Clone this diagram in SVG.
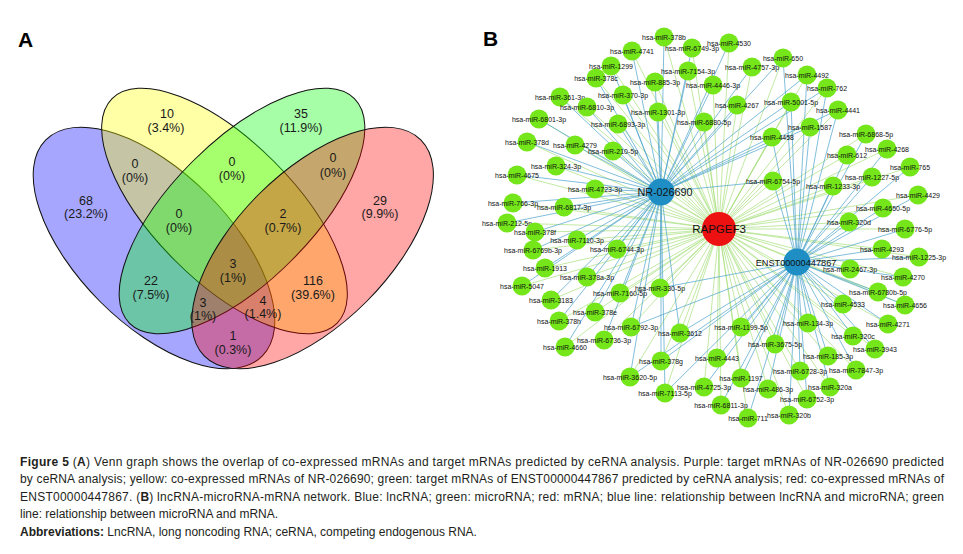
<svg xmlns="http://www.w3.org/2000/svg" width="963" height="554" viewBox="0 0 963 554">
<style>
.lbl{font-family:"Liberation Sans",Arial,sans-serif;font-size:7px;text-anchor:middle;fill:#111}
.m{fill:#74e61a}
.lnc{fill:#1f8ec4}
.eg{stroke:#a8e07c;stroke-width:0.7}
.eb{stroke:#4aa2cc;stroke-width:0.7}
.vt{font-family:"Liberation Sans",Arial,sans-serif;font-size:12.5px;text-anchor:middle;fill:#1a1a1a}
.set{stroke:#111;stroke-width:1;fill-opacity:0.35}
.cap{font-family:"Liberation Sans",Arial,sans-serif;font-size:12px;fill:#231f20}
.pl{font-family:"Liberation Sans",Arial,sans-serif;font-size:21px;font-weight:bold;fill:#000}
</style>
<rect width="963" height="554" fill="#fff"/>
<text class="pl" x="18" y="47">A</text>
<text class="pl" x="483" y="46">B</text>
<g id="venn">
<ellipse id="set-purple" class="set" cx="154" cy="248" rx="153" ry="76" transform="rotate(45 154 248)" fill="#0000ff"/>
<ellipse id="set-yellow" class="set" cx="224.5" cy="211" rx="159" ry="70" transform="rotate(45 224.5 211)" fill="#ffff00"/>
<ellipse id="set-green" class="set" cx="242" cy="211" rx="159" ry="70" transform="rotate(-45 242 211)" fill="#00ff00"/>
<ellipse id="set-red" class="set" cx="312.6" cy="248" rx="153" ry="76" transform="rotate(-45 312.6 248)" fill="#ff0000"/>
<g id="venn-labels">
<text class="vt" x="167" y="117.5">10</text><text class="vt" x="166" y="131.5">(3.4%)</text>
<text class="vt" x="301" y="117.5">35</text><text class="vt" x="301" y="131.5">(11.9%)</text>
<text class="vt" x="135" y="167.5">0</text><text class="vt" x="135" y="181.5">(0%)</text>
<text class="vt" x="232" y="165.5">0</text><text class="vt" x="232" y="179.5">(0%)</text>
<text class="vt" x="333" y="161.5">0</text><text class="vt" x="333" y="176.5">(0%)</text>
<text class="vt" x="86" y="204.5">68</text><text class="vt" x="86" y="217.5">(23.2%)</text>
<text class="vt" x="380" y="204.5">29</text><text class="vt" x="380" y="217.5">(9.9%)</text>
<text class="vt" x="179" y="217.5">0</text><text class="vt" x="179" y="231.5">(0%)</text>
<text class="vt" x="283" y="217.5">2</text><text class="vt" x="283" y="231.5">(0.7%)</text>
<text class="vt" x="233" y="267.5">3</text><text class="vt" x="233" y="281.5">(1%)</text>
<text class="vt" x="151" y="284.5">22</text><text class="vt" x="151" y="298.5">(7.5%)</text>
<text class="vt" x="313" y="284.5">116</text><text class="vt" x="313" y="298.5">(39.6%)</text>
<text class="vt" x="203" y="306.5">3</text><text class="vt" x="203" y="319.5">(1%)</text>
<text class="vt" x="263" y="304.5">4</text><text class="vt" x="263" y="317.5">(1.4%)</text>
<text class="vt" x="233" y="339.5">1</text><text class="vt" x="233" y="353.5">(0.3%)</text>
</g>
</g>
<g id="connectors">
<g id="green-edges" class="eg">
<line x1="719" y1="229" x2="664" y2="37"/><line x1="719" y1="229" x2="692" y2="48"/><line x1="719" y1="229" x2="729" y2="43"/><line x1="719" y1="229" x2="632" y2="51"/><line x1="719" y1="229" x2="783" y2="58"/><line x1="719" y1="229" x2="611" y2="66"/><line x1="719" y1="229" x2="688" y2="71"/><line x1="719" y1="229" x2="752" y2="67"/><line x1="719" y1="229" x2="807" y2="75"/><line x1="719" y1="229" x2="596" y2="78"/>
<line x1="719" y1="229" x2="655" y2="82"/><line x1="719" y1="229" x2="713" y2="85"/><line x1="719" y1="229" x2="827" y2="88"/><line x1="719" y1="229" x2="560" y2="97"/><line x1="719" y1="229" x2="623" y2="95"/><line x1="719" y1="229" x2="737" y2="105"/><line x1="719" y1="229" x2="791" y2="102"/><line x1="719" y1="229" x2="838" y2="110"/><line x1="719" y1="229" x2="587" y2="107"/><line x1="719" y1="229" x2="658" y2="112"/>
<line x1="719" y1="229" x2="539" y2="119"/><line x1="719" y1="229" x2="618" y2="124"/><line x1="719" y1="229" x2="704" y2="122"/><line x1="719" y1="229" x2="810" y2="127"/><line x1="719" y1="229" x2="772" y2="137"/><line x1="719" y1="229" x2="866" y2="134"/><line x1="719" y1="229" x2="527" y2="142"/><line x1="719" y1="229" x2="575" y2="145"/><line x1="719" y1="229" x2="613" y2="151"/><line x1="719" y1="229" x2="847" y2="155"/>
<line x1="719" y1="229" x2="887" y2="149"/><line x1="719" y1="229" x2="910" y2="167"/><line x1="719" y1="229" x2="556" y2="166"/><line x1="719" y1="229" x2="517" y2="175"/><line x1="719" y1="229" x2="595" y2="189"/><line x1="719" y1="229" x2="872" y2="177"/><line x1="719" y1="229" x2="773" y2="181"/><line x1="719" y1="229" x2="833" y2="186"/><line x1="719" y1="229" x2="918" y2="195"/><line x1="719" y1="229" x2="513" y2="203"/>
<line x1="719" y1="229" x2="564" y2="207"/><line x1="719" y1="229" x2="883" y2="208"/><line x1="719" y1="229" x2="849" y2="222"/><line x1="719" y1="229" x2="507" y2="223"/><line x1="719" y1="229" x2="905" y2="229"/><line x1="719" y1="229" x2="535" y2="232"/><line x1="719" y1="229" x2="577" y2="240"/><line x1="719" y1="229" x2="533" y2="250"/><line x1="719" y1="229" x2="617" y2="249"/><line x1="719" y1="229" x2="882" y2="249"/>
<line x1="719" y1="229" x2="919" y2="257"/><line x1="719" y1="229" x2="545" y2="268"/><line x1="719" y1="229" x2="587" y2="277"/><line x1="719" y1="229" x2="850" y2="269"/><line x1="719" y1="229" x2="903" y2="277"/><line x1="719" y1="229" x2="522" y2="286"/><line x1="719" y1="229" x2="620" y2="293"/><line x1="719" y1="229" x2="660" y2="288"/><line x1="719" y1="229" x2="878" y2="292"/><line x1="719" y1="229" x2="551" y2="300"/>
<line x1="719" y1="229" x2="843" y2="304"/><line x1="719" y1="229" x2="905" y2="305"/><line x1="719" y1="229" x2="595" y2="312"/><line x1="719" y1="229" x2="559" y2="321"/><line x1="719" y1="229" x2="631" y2="327"/><line x1="719" y1="229" x2="680" y2="333"/><line x1="719" y1="229" x2="741" y2="327"/><line x1="719" y1="229" x2="808" y2="323"/><line x1="719" y1="229" x2="888" y2="324"/><line x1="719" y1="229" x2="853" y2="336"/>
<line x1="719" y1="229" x2="604" y2="340"/><line x1="719" y1="229" x2="565" y2="347"/><line x1="719" y1="229" x2="775" y2="344"/><line x1="719" y1="229" x2="828" y2="356"/><line x1="719" y1="229" x2="875" y2="349"/><line x1="719" y1="229" x2="661" y2="361"/><line x1="719" y1="229" x2="717" y2="358"/><line x1="719" y1="229" x2="800" y2="371"/><line x1="719" y1="229" x2="856" y2="370"/><line x1="719" y1="229" x2="630" y2="377"/>
<line x1="719" y1="229" x2="704" y2="387"/><line x1="719" y1="229" x2="741" y2="378"/><line x1="719" y1="229" x2="768" y2="389"/><line x1="719" y1="229" x2="830" y2="387"/><line x1="719" y1="229" x2="807" y2="399"/><line x1="719" y1="229" x2="665" y2="393"/><line x1="719" y1="229" x2="721" y2="405"/><line x1="719" y1="229" x2="789" y2="415"/><line x1="719" y1="229" x2="748" y2="418"/>
</g>
<g id="blue-edges-nr" class="eb">
<line x1="661" y1="192" x2="664" y2="37"/><line x1="661" y1="192" x2="692" y2="48"/><line x1="661" y1="192" x2="729" y2="43"/><line x1="661" y1="192" x2="632" y2="51"/><line x1="661" y1="192" x2="783" y2="58"/><line x1="661" y1="192" x2="611" y2="66"/><line x1="661" y1="192" x2="688" y2="71"/><line x1="661" y1="192" x2="752" y2="67"/><line x1="661" y1="192" x2="807" y2="75"/><line x1="661" y1="192" x2="596" y2="78"/>
<line x1="661" y1="192" x2="655" y2="82"/><line x1="661" y1="192" x2="713" y2="85"/><line x1="661" y1="192" x2="827" y2="88"/><line x1="661" y1="192" x2="560" y2="97"/><line x1="661" y1="192" x2="623" y2="95"/><line x1="661" y1="192" x2="737" y2="105"/><line x1="661" y1="192" x2="791" y2="102"/><line x1="661" y1="192" x2="838" y2="110"/><line x1="661" y1="192" x2="587" y2="107"/><line x1="661" y1="192" x2="658" y2="112"/>
<line x1="661" y1="192" x2="539" y2="119"/><line x1="661" y1="192" x2="618" y2="124"/><line x1="661" y1="192" x2="704" y2="122"/><line x1="661" y1="192" x2="810" y2="127"/><line x1="661" y1="192" x2="772" y2="137"/><line x1="661" y1="192" x2="527" y2="142"/><line x1="661" y1="192" x2="575" y2="145"/><line x1="661" y1="192" x2="613" y2="151"/><line x1="661" y1="192" x2="556" y2="166"/><line x1="661" y1="192" x2="517" y2="175"/>
<line x1="661" y1="192" x2="595" y2="189"/><line x1="661" y1="192" x2="773" y2="181"/><line x1="661" y1="192" x2="513" y2="203"/><line x1="661" y1="192" x2="564" y2="207"/><line x1="661" y1="192" x2="507" y2="223"/><line x1="661" y1="192" x2="535" y2="232"/><line x1="661" y1="192" x2="577" y2="240"/><line x1="661" y1="192" x2="533" y2="250"/><line x1="661" y1="192" x2="617" y2="249"/><line x1="661" y1="192" x2="545" y2="268"/>
<line x1="661" y1="192" x2="587" y2="277"/><line x1="661" y1="192" x2="522" y2="286"/><line x1="661" y1="192" x2="620" y2="293"/><line x1="661" y1="192" x2="660" y2="288"/><line x1="661" y1="192" x2="551" y2="300"/><line x1="661" y1="192" x2="595" y2="312"/><line x1="661" y1="192" x2="559" y2="321"/><line x1="661" y1="192" x2="631" y2="327"/><line x1="661" y1="192" x2="680" y2="333"/><line x1="661" y1="192" x2="604" y2="340"/>
<line x1="661" y1="192" x2="565" y2="347"/><line x1="661" y1="192" x2="661" y2="361"/><line x1="661" y1="192" x2="630" y2="377"/><line x1="661" y1="192" x2="665" y2="393"/>
</g>
<g id="blue-edges-enst" class="eb">
<line x1="797" y1="262" x2="783" y2="58"/><line x1="797" y1="262" x2="807" y2="75"/><line x1="797" y1="262" x2="827" y2="88"/><line x1="797" y1="262" x2="791" y2="102"/><line x1="797" y1="262" x2="838" y2="110"/><line x1="797" y1="262" x2="810" y2="127"/><line x1="797" y1="262" x2="772" y2="137"/><line x1="797" y1="262" x2="866" y2="134"/><line x1="797" y1="262" x2="847" y2="155"/><line x1="797" y1="262" x2="887" y2="149"/>
<line x1="797" y1="262" x2="910" y2="167"/><line x1="797" y1="262" x2="872" y2="177"/><line x1="797" y1="262" x2="773" y2="181"/><line x1="797" y1="262" x2="833" y2="186"/><line x1="797" y1="262" x2="918" y2="195"/><line x1="797" y1="262" x2="883" y2="208"/><line x1="797" y1="262" x2="849" y2="222"/><line x1="797" y1="262" x2="905" y2="229"/><line x1="797" y1="262" x2="882" y2="249"/><line x1="797" y1="262" x2="919" y2="257"/>
<line x1="797" y1="262" x2="850" y2="269"/><line x1="797" y1="262" x2="903" y2="277"/><line x1="797" y1="262" x2="660" y2="288"/><line x1="797" y1="262" x2="878" y2="292"/><line x1="797" y1="262" x2="843" y2="304"/><line x1="797" y1="262" x2="905" y2="305"/><line x1="797" y1="262" x2="631" y2="327"/><line x1="797" y1="262" x2="680" y2="333"/><line x1="797" y1="262" x2="741" y2="327"/><line x1="797" y1="262" x2="808" y2="323"/>
<line x1="797" y1="262" x2="888" y2="324"/><line x1="797" y1="262" x2="853" y2="336"/><line x1="797" y1="262" x2="775" y2="344"/><line x1="797" y1="262" x2="828" y2="356"/><line x1="797" y1="262" x2="875" y2="349"/><line x1="797" y1="262" x2="661" y2="361"/><line x1="797" y1="262" x2="717" y2="358"/><line x1="797" y1="262" x2="800" y2="371"/><line x1="797" y1="262" x2="856" y2="370"/><line x1="797" y1="262" x2="630" y2="377"/>
<line x1="797" y1="262" x2="704" y2="387"/><line x1="797" y1="262" x2="741" y2="378"/><line x1="797" y1="262" x2="768" y2="389"/><line x1="797" y1="262" x2="830" y2="387"/><line x1="797" y1="262" x2="807" y2="399"/><line x1="797" y1="262" x2="665" y2="393"/><line x1="797" y1="262" x2="721" y2="405"/><line x1="797" y1="262" x2="789" y2="415"/><line x1="797" y1="262" x2="748" y2="418"/>
</g>
</g>
<g id="mirna-nodes">
<g id="n-378b"><circle class="m" cx="664" cy="37" r="9.5"/><text class="lbl" x="664" y="39.5">hsa-miR-378b</text></g>
<g id="n-6749-3p"><circle class="m" cx="692" cy="48" r="9.5"/><text class="lbl" x="692" y="50.5">hsa-miR-6749-3p</text></g>
<g id="n-4530"><circle class="m" cx="729" cy="43" r="9.5"/><text class="lbl" x="729" y="45.5">hsa-miR-4530</text></g>
<g id="n-4741"><circle class="m" cx="632" cy="51" r="9.5"/><text class="lbl" x="632" y="53.5">hsa-miR-4741</text></g>
<g id="n-650"><circle class="m" cx="783" cy="58" r="9.5"/><text class="lbl" x="783" y="60.5">hsa-miR-650</text></g>
<g id="n-1299"><circle class="m" cx="611" cy="66" r="9.5"/><text class="lbl" x="611" y="68.5">hsa-miR-1299</text></g>
<g id="n-7154-3p"><circle class="m" cx="688" cy="71" r="9.5"/><text class="lbl" x="688" y="73.5">hsa-miR-7154-3p</text></g>
<g id="n-4757-3p"><circle class="m" cx="752" cy="67" r="9.5"/><text class="lbl" x="752" y="69.5">hsa-miR-4757-3p</text></g>
<g id="n-4492"><circle class="m" cx="807" cy="75" r="9.5"/><text class="lbl" x="807" y="77.5">hsa-miR-4492</text></g>
<g id="n-378c"><circle class="m" cx="596" cy="78" r="9.5"/><text class="lbl" x="596" y="80.5">hsa-miR-378c</text></g>
<g id="n-885-3p"><circle class="m" cx="655" cy="82" r="9.5"/><text class="lbl" x="655" y="84.5">hsa-miR-885-3p</text></g>
<g id="n-4446-3p"><circle class="m" cx="713" cy="85" r="9.5"/><text class="lbl" x="713" y="87.5">hsa-miR-4446-3p</text></g>
<g id="n-762"><circle class="m" cx="827" cy="88" r="9.5"/><text class="lbl" x="827" y="90.5">hsa-miR-762</text></g>
<g id="n-361-3p"><circle class="m" cx="560" cy="97" r="9.5"/><text class="lbl" x="560" y="99.5">hsa-miR-361-3p</text></g>
<g id="n-370-3p"><circle class="m" cx="623" cy="95" r="9.5"/><text class="lbl" x="623" y="97.5">hsa-miR-370-3p</text></g>
<g id="n-4267"><circle class="m" cx="737" cy="105" r="9.5"/><text class="lbl" x="737" y="107.5">hsa-miR-4267</text></g>
<g id="n-5001-5p"><circle class="m" cx="791" cy="102" r="9.5"/><text class="lbl" x="791" y="104.5">hsa-miR-5001-5p</text></g>
<g id="n-4441"><circle class="m" cx="838" cy="110" r="9.5"/><text class="lbl" x="838" y="112.5">hsa-miR-4441</text></g>
<g id="n-6810-3p"><circle class="m" cx="587" cy="107" r="9.5"/><text class="lbl" x="587" y="109.5">hsa-miR-6810-3p</text></g>
<g id="n-1301-3p"><circle class="m" cx="658" cy="112" r="9.5"/><text class="lbl" x="658" y="114.5">hsa-miR-1301-3p</text></g>
<g id="n-6801-3p"><circle class="m" cx="539" cy="119" r="9.5"/><text class="lbl" x="539" y="121.5">hsa-miR-6801-3p</text></g>
<g id="n-6893-3p"><circle class="m" cx="618" cy="124" r="9.5"/><text class="lbl" x="618" y="126.5">hsa-miR-6893-3p</text></g>
<g id="n-6880-5p"><circle class="m" cx="704" cy="122" r="9.5"/><text class="lbl" x="704" y="124.5">hsa-miR-6880-5p</text></g>
<g id="n-1587"><circle class="m" cx="810" cy="127" r="9.5"/><text class="lbl" x="810" y="129.5">hsa-miR-1587</text></g>
<g id="n-4458"><circle class="m" cx="772" cy="137" r="9.5"/><text class="lbl" x="772" y="139.5">hsa-miR-4458</text></g>
<g id="n-6868-5p"><circle class="m" cx="866" cy="134" r="9.5"/><text class="lbl" x="866" y="136.5">hsa-miR-6868-5p</text></g>
<g id="n-378d"><circle class="m" cx="527" cy="142" r="9.5"/><text class="lbl" x="527" y="144.5">hsa-miR-378d</text></g>
<g id="n-4279"><circle class="m" cx="575" cy="145" r="9.5"/><text class="lbl" x="575" y="147.5">hsa-miR-4279</text></g>
<g id="n-210-5p"><circle class="m" cx="613" cy="151" r="9.5"/><text class="lbl" x="613" y="153.5">hsa-miR-210-5p</text></g>
<g id="n-612"><circle class="m" cx="847" cy="155" r="9.5"/><text class="lbl" x="847" y="157.5">hsa-miR-612</text></g>
<g id="n-4268"><circle class="m" cx="887" cy="149" r="9.5"/><text class="lbl" x="887" y="151.5">hsa-miR-4268</text></g>
<g id="n-765"><circle class="m" cx="910" cy="167" r="9.5"/><text class="lbl" x="910" y="169.5">hsa-miR-765</text></g>
<g id="n-324-3p"><circle class="m" cx="556" cy="166" r="9.5"/><text class="lbl" x="556" y="168.5">hsa-miR-324-3p</text></g>
<g id="n-4675"><circle class="m" cx="517" cy="175" r="9.5"/><text class="lbl" x="517" y="177.5">hsa-miR-4675</text></g>
<g id="n-4723-3p"><circle class="m" cx="595" cy="189" r="9.5"/><text class="lbl" x="595" y="191.5">hsa-miR-4723-3p</text></g>
<g id="n-1227-5p"><circle class="m" cx="872" cy="177" r="9.5"/><text class="lbl" x="872" y="179.5">hsa-miR-1227-5p</text></g>
<g id="n-6754-5p"><circle class="m" cx="773" cy="181" r="9.5"/><text class="lbl" x="773" y="183.5">hsa-miR-6754-5p</text></g>
<g id="n-1233-3p"><circle class="m" cx="833" cy="186" r="9.5"/><text class="lbl" x="833" y="188.5">hsa-miR-1233-3p</text></g>
<g id="n-4429"><circle class="m" cx="918" cy="195" r="9.5"/><text class="lbl" x="918" y="197.5">hsa-miR-4429</text></g>
<g id="n-766-3p"><circle class="m" cx="513" cy="203" r="9.5"/><text class="lbl" x="513" y="205.5">hsa-miR-766-3p</text></g>
<g id="n-6817-3p"><circle class="m" cx="564" cy="207" r="9.5"/><text class="lbl" x="564" y="209.5">hsa-miR-6817-3p</text></g>
<g id="n-4650-5p"><circle class="m" cx="883" cy="208" r="9.5"/><text class="lbl" x="883" y="210.5">hsa-miR-4650-5p</text></g>
<g id="n-320d"><circle class="m" cx="849" cy="222" r="9.5"/><text class="lbl" x="849" y="224.5">hsa-miR-320d</text></g>
<g id="n-212-5p"><circle class="m" cx="507" cy="223" r="9.5"/><text class="lbl" x="507" y="225.5">hsa-miR-212-5p</text></g>
<g id="n-6776-5p"><circle class="m" cx="905" cy="229" r="9.5"/><text class="lbl" x="905" y="231.5">hsa-miR-6776-5p</text></g>
<g id="n-378f"><circle class="m" cx="535" cy="232" r="9.5"/><text class="lbl" x="535" y="234.5">hsa-miR-378f</text></g>
<g id="n-7110-3p"><circle class="m" cx="577" cy="240" r="9.5"/><text class="lbl" x="577" y="242.5">hsa-miR-7110-3p</text></g>
<g id="n-6769b-3p"><circle class="m" cx="533" cy="250" r="9.5"/><text class="lbl" x="533" y="252.5">hsa-miR-6769b-3p</text></g>
<g id="n-6744-3p"><circle class="m" cx="617" cy="249" r="9.5"/><text class="lbl" x="617" y="251.5">hsa-miR-6744-3p</text></g>
<g id="n-4293"><circle class="m" cx="882" cy="249" r="9.5"/><text class="lbl" x="882" y="251.5">hsa-miR-4293</text></g>
<g id="n-1225-3p"><circle class="m" cx="919" cy="257" r="9.5"/><text class="lbl" x="919" y="259.5">hsa-miR-1225-3p</text></g>
<g id="n-1913"><circle class="m" cx="545" cy="268" r="9.5"/><text class="lbl" x="545" y="270.5">hsa-miR-1913</text></g>
<g id="n-378a-3p"><circle class="m" cx="587" cy="277" r="9.5"/><text class="lbl" x="587" y="279.5">hsa-miR-378a-3p</text></g>
<g id="n-2467-3p"><circle class="m" cx="850" cy="269" r="9.5"/><text class="lbl" x="850" y="271.5">hsa-miR-2467-3p</text></g>
<g id="n-4270"><circle class="m" cx="903" cy="277" r="9.5"/><text class="lbl" x="903" y="279.5">hsa-miR-4270</text></g>
<g id="n-5047"><circle class="m" cx="522" cy="286" r="9.5"/><text class="lbl" x="522" y="288.5">hsa-miR-5047</text></g>
<g id="n-7160-5p"><circle class="m" cx="620" cy="293" r="9.5"/><text class="lbl" x="620" y="295.5">hsa-miR-7160-5p</text></g>
<g id="n-330-5p"><circle class="m" cx="660" cy="288" r="9.5"/><text class="lbl" x="660" y="290.5">hsa-miR-330-5p</text></g>
<g id="n-6780b-5p"><circle class="m" cx="878" cy="292" r="9.5"/><text class="lbl" x="878" y="294.5">hsa-miR-6780b-5p</text></g>
<g id="n-3183"><circle class="m" cx="551" cy="300" r="9.5"/><text class="lbl" x="551" y="302.5">hsa-miR-3183</text></g>
<g id="n-4533"><circle class="m" cx="843" cy="304" r="9.5"/><text class="lbl" x="843" y="306.5">hsa-miR-4533</text></g>
<g id="n-4656"><circle class="m" cx="905" cy="305" r="9.5"/><text class="lbl" x="905" y="307.5">hsa-miR-4656</text></g>
<g id="n-378e"><circle class="m" cx="595" cy="312" r="9.5"/><text class="lbl" x="595" y="314.5">hsa-miR-378e</text></g>
<g id="n-378h"><circle class="m" cx="559" cy="321" r="9.5"/><text class="lbl" x="559" y="323.5">hsa-miR-378h</text></g>
<g id="n-6792-3p"><circle class="m" cx="631" cy="327" r="9.5"/><text class="lbl" x="631" y="329.5">hsa-miR-6792-3p</text></g>
<g id="n-3612"><circle class="m" cx="680" cy="333" r="9.5"/><text class="lbl" x="680" y="335.5">hsa-miR-3612</text></g>
<g id="n-1199-5p"><circle class="m" cx="741" cy="327" r="9.5"/><text class="lbl" x="741" y="329.5">hsa-miR-1199-5p</text></g>
<g id="n-134-3p"><circle class="m" cx="808" cy="323" r="9.5"/><text class="lbl" x="808" y="325.5">hsa-miR-134-3p</text></g>
<g id="n-4271"><circle class="m" cx="888" cy="324" r="9.5"/><text class="lbl" x="888" y="326.5">hsa-miR-4271</text></g>
<g id="n-320c"><circle class="m" cx="853" cy="336" r="9.5"/><text class="lbl" x="853" y="338.5">hsa-miR-320c</text></g>
<g id="n-6736-3p"><circle class="m" cx="604" cy="340" r="9.5"/><text class="lbl" x="604" y="342.5">hsa-miR-6736-3p</text></g>
<g id="n-4660"><circle class="m" cx="565" cy="347" r="9.5"/><text class="lbl" x="565" y="349.5">hsa-miR-4660</text></g>
<g id="n-3675-5p"><circle class="m" cx="775" cy="344" r="9.5"/><text class="lbl" x="775" y="346.5">hsa-miR-3675-5p</text></g>
<g id="n-185-3p"><circle class="m" cx="828" cy="356" r="9.5"/><text class="lbl" x="828" y="358.5">hsa-miR-185-3p</text></g>
<g id="n-3943"><circle class="m" cx="875" cy="349" r="9.5"/><text class="lbl" x="875" y="351.5">hsa-miR-3943</text></g>
<g id="n-378g"><circle class="m" cx="661" cy="361" r="9.5"/><text class="lbl" x="661" y="363.5">hsa-miR-378g</text></g>
<g id="n-4443"><circle class="m" cx="717" cy="358" r="9.5"/><text class="lbl" x="717" y="360.5">hsa-miR-4443</text></g>
<g id="n-6728-3p"><circle class="m" cx="800" cy="371" r="9.5"/><text class="lbl" x="800" y="373.5">hsa-miR-6728-3p</text></g>
<g id="n-7847-3p"><circle class="m" cx="856" cy="370" r="9.5"/><text class="lbl" x="856" y="372.5">hsa-miR-7847-3p</text></g>
<g id="n-3620-5p"><circle class="m" cx="630" cy="377" r="9.5"/><text class="lbl" x="630" y="379.5">hsa-miR-3620-5p</text></g>
<g id="n-4725-3p"><circle class="m" cx="704" cy="387" r="9.5"/><text class="lbl" x="704" y="389.5">hsa-miR-4725-3p</text></g>
<g id="n-1197"><circle class="m" cx="741" cy="378" r="9.5"/><text class="lbl" x="741" y="380.5">hsa-miR-1197</text></g>
<g id="n-486-3p"><circle class="m" cx="768" cy="389" r="9.5"/><text class="lbl" x="768" y="391.5">hsa-miR-486-3p</text></g>
<g id="n-320a"><circle class="m" cx="830" cy="387" r="9.5"/><text class="lbl" x="830" y="389.5">hsa-miR-320a</text></g>
<g id="n-6752-3p"><circle class="m" cx="807" cy="399" r="9.5"/><text class="lbl" x="807" y="401.5">hsa-miR-6752-3p</text></g>
<g id="n-7113-5p"><circle class="m" cx="665" cy="393" r="9.5"/><text class="lbl" x="665" y="395.5">hsa-miR-7113-5p</text></g>
<g id="n-6811-3p"><circle class="m" cx="721" cy="405" r="9.5"/><text class="lbl" x="721" y="407.5">hsa-miR-6811-3p</text></g>
<g id="n-320b"><circle class="m" cx="789" cy="415" r="9.5"/><text class="lbl" x="789" y="417.5">hsa-miR-320b</text></g>
<g id="n-711"><circle class="m" cx="748" cy="418" r="9.5"/><text class="lbl" x="748" y="420.5">hsa-miR-711</text></g>
</g>
<g id="n-NR-026690"><circle class="lnc" cx="661" cy="192" r="13.5"/><text x="665" y="195.5" font-family="Liberation Sans, Arial, sans-serif" font-size="10.8" text-anchor="middle" fill="#111">NR-026690</text></g>
<g id="n-ENST00000447867"><circle class="lnc" cx="797" cy="262" r="13.5"/><text x="796" y="265.5" font-family="Liberation Sans, Arial, sans-serif" font-size="9.2" text-anchor="middle" fill="#111">ENST00000447867</text></g>
<g id="n-RAPGEF3"><circle cx="719" cy="229" r="17" fill="#ee1111"/><text x="719" y="233" font-family="Liberation Sans, Arial, sans-serif" font-size="11.5" text-anchor="middle" fill="#111">RAPGEF3</text></g>
<g id="caption" class="cap">
<text x="20" y="466" textLength="924" lengthAdjust="spacing"><tspan font-weight="bold">Figure 5</tspan> (<tspan font-weight="bold">A</tspan>) Venn graph shows the overlap of co-expressed mRNAs and target mRNAs predicted by ceRNA analysis. Purple: target mRNAs of NR-026690 predicted</text>
<text x="20" y="483" textLength="924" lengthAdjust="spacing">by ceRNA analysis; yellow: co-expressed mRNAs of NR-026690; green: target mRNAs of ENST00000447867 predicted by ceRNA analysis; red: co-expressed mRNAs of</text>
<text x="20" y="501" textLength="924" lengthAdjust="spacing">ENST00000447867. (<tspan font-weight="bold">B</tspan>) lncRNA-microRNA-mRNA network. Blue: lncRNA; green: microRNA; red: mRNA; blue line: relationship between lncRNA and microRNA; green</text>
<text x="20" y="518">line: relationship between microRNA and mRNA.</text>
<text x="20" y="536"><tspan font-weight="bold">Abbreviations:</tspan> LncRNA, long noncoding RNA; ceRNA, competing endogenous RNA.</text>
</g>
</svg>
